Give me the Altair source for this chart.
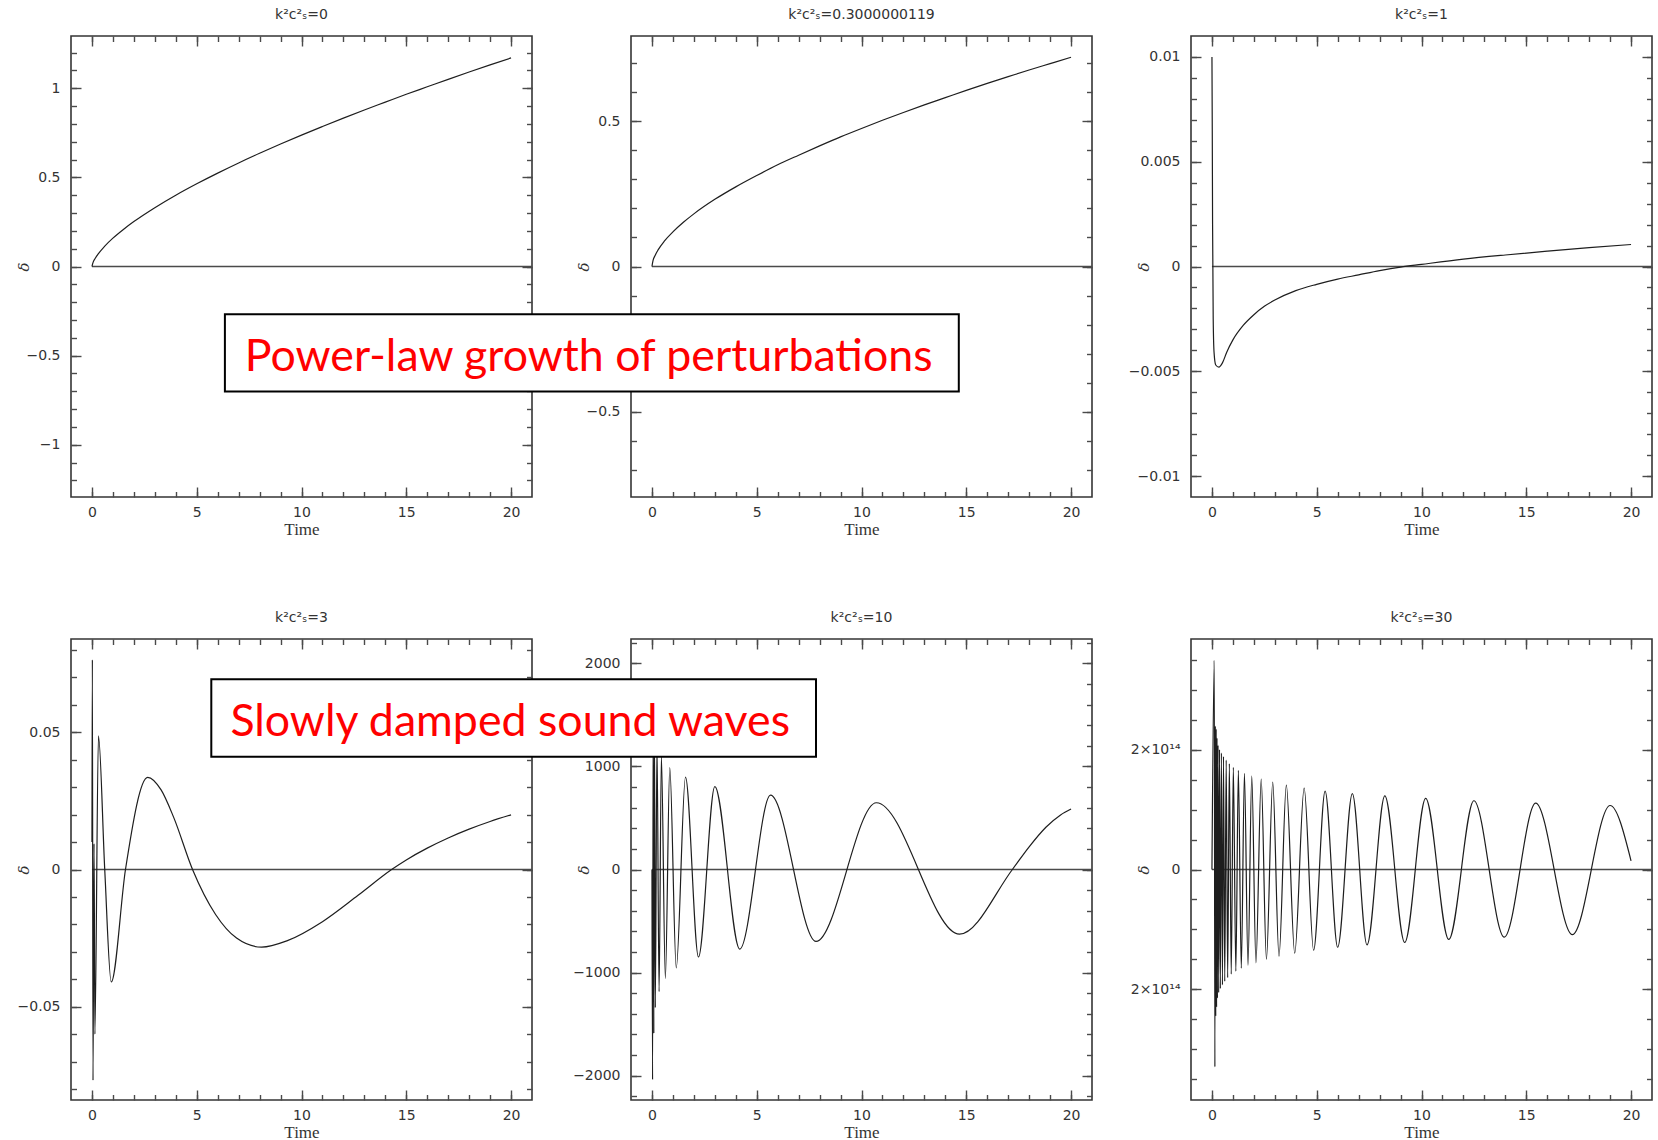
import altair as alt
import pandas as pd

# ---------------- data ----------------
TITLES = ["k²c²ₛ=0", "k²c²ₛ=0.3000000119", "k²c²ₛ=1",
          "k²c²ₛ=3", "k²c²ₛ=10", "k²c²ₛ=30"]

P1_T = [0, 0.05, 0.15, 0.3, 0.6, 1, 1.5, 2, 3, 4, 5, 6, 7, 8, 9, 10, 11, 12, 13, 14, 15, 16, 17, 18, 19, 20]
P1_V = [0.0, 0.022, 0.045, 0.071, 0.113, 0.159, 0.208, 0.252, 0.33, 0.40, 0.464, 0.524, 0.581, 0.635,
        0.687, 0.737, 0.785, 0.832, 0.878, 0.922, 0.966, 1.008, 1.05, 1.091, 1.131, 1.17]

P2_T = [0, 0.05, 0.15, 0.3, 0.6, 1, 1.5, 2, 3, 4, 5, 6, 7, 8, 9, 10, 11, 12, 13, 14, 15, 16, 17, 18, 19, 20]
P2_V = [0.0, 0.02, 0.038, 0.058, 0.088, 0.119, 0.152, 0.181, 0.231, 0.274, 0.313, 0.35, 0.383, 0.415,
        0.446, 0.475, 0.503, 0.53, 0.556, 0.581, 0.606, 0.63, 0.653, 0.676, 0.698, 0.72]

P3_T = [0, 0.015, 0.03, 0.06, 0.1, 0.18, 0.33, 0.5, 0.7, 1, 1.5, 2, 2.5, 3, 4, 5, 6, 7, 8, 9, 10,
        12, 14, 16, 18, 20]
P3_V = [0.01, 0.0065, 0.002, -0.0025, -0.0041, -0.0047, -0.0048, -0.0046, -0.0041, -0.0035, -0.0028,
        -0.0023, -0.0019, -0.0016, -0.00115, -0.00085, -0.0006, -0.0004, -0.0002, -0.00003, 0.0001,
        0.00035, 0.00055, 0.00073, 0.0009, 0.00105]

P4_T = [0, 0.02, 0.05, 0.1, 0.14, 0.31, 0.61, 0.92, 1.6, 2.66, 3.3, 3.9, 4.8, 5.9, 6.9, 8.1, 9.3,
        11, 12.7, 14.3, 15, 16, 17, 18, 19, 20]
P4_V = [0.01, 0.0765, -0.0768, 0.0094, -0.06, 0.0487, 0.0, -0.041, 0.0, 0.0336, 0.029, 0.019, 0.0,
        -0.0164, -0.025, -0.0283, -0.026, -0.019, -0.0094, 0.0, 0.0035, 0.0078, 0.0115, 0.0147,
        0.0175, 0.0199]

P5_T = [0, 0.03, 0.06, 0.09, 0.12, 0.16, 0.24, 0.34, 0.45, 0.64, 0.85, 1.16, 1.6, 2.22, 3.0, 4.19,
        5.66, 7.83, 10.71, 14.68, 17.2, 18.0, 18.8, 19.5, 20]
P5_V = [0, -2040, 1550, -1590, 1400, -1340, 1230, -1185, 1100, -1057, 990, -956, 896, -849, 805,
        -772, 721, -698, 648, -628, 0, 220, 410, 530, 587]

P6_T = [0, 0.11, 0.14, 0.16, 0.18, 0.2, 0.22, 0.24, 0.26, 0.29, 0.32, 0.36, 0.4, 0.45, 0.5, 0.55,
        0.61, 0.68, 0.75, 0.83, 0.92, 1.02, 1.14, 1.26, 1.4, 1.55, 1.72, 1.9, 2.1, 2.35, 2.6, 2.9,
        3.2, 3.55, 3.95, 4.4, 4.85, 5.4, 6.0, 6.7, 7.4, 8.25, 9.2, 10.2, 11.3, 12.5, 13.95, 15.45,
        17.2, 19.0, 20.0]
P6_V = [0.0, 3.5e14, -3.3e14, 2.4e14, -2.45e14, 2.35e14, -2.3e14, 2.2e14, -2.15e14, 2.08e14,
        -2.06e14, 2.01e14, -1.99e14, 1.95e14, -1.93e14, 1.89e14, -1.87e14, 1.83e14, -1.81e14,
        1.77e14, -1.75e14, 1.71e14, -1.70e14, 1.66e14, -1.65e14, 1.61e14, -1.60e14, 1.56e14,
        -1.56e14, 1.51e14, -1.50e14, 1.46e14, -1.45e14, 1.41e14, -1.40e14, 1.36e14, -1.35e14,
        1.31e14, -1.30e14, 1.27e14, -1.26e14, 1.23e14, -1.22e14, 1.19e14, -1.17e14, 1.15e14,
        -1.13e14, 1.11e14, -1.09e14, 1.07e14, 0.145e14]

SERIES = [(P1_T, P1_V), (P2_T, P2_V), (P3_T, P3_V), (P4_T, P4_V), (P5_T, P5_V), (P6_T, P6_V)]

Y_DOMAINS = [[-1.293, 1.293], [-0.793, 0.793], [-0.011, 0.011],
             [-0.084, 0.084], [-2237, 2237], [-3.855e14, 3.855e14]]
Y_MAJOR = [[-1, -0.5, 0, 0.5, 1], [-0.5, 0, 0.5], [-0.01, -0.005, 0, 0.005, 0.01],
           [-0.05, 0, 0.05], [-2000, -1000, 0, 1000, 2000], [-2e14, 0, 2e14]]
Y_MINOR = [[round(k * 0.1, 2) for k in range(-12, 13)],
           [round(k * 0.1, 2) for k in range(-7, 8)],
           [round(k * 0.001, 4) for k in range(-10, 11)],
           [round(k * 0.01, 3) for k in range(-8, 9)],
           [k * 200 for k in range(-11, 12)],
           [k * 5e13 for k in range(-7, 8)]]
Y_FORMAT = ["~g", "~g", "~g", "~g", "d", "~g"]
Y_LABEL_EXPR = [None, None, None, None, None, "datum.value == 0 ? '0' : '2×10¹⁴'"]

X_DOMAIN = [-1, 21]
X_MAJOR = [0, 5, 10, 15, 20]
X_MINOR = list(range(0, 21))
ZERO_LINE_T = [0, 21]

ANNOT_1 = "Power-law growth of perturbations"
ANNOT_2 = "Slowly damped sound waves"

# ---------------- layout / style ----------------
W = 461
H = 461
MAJ = 10
MIN = 5.5
LINE_COLOR = "#1e1e1e"
ZERO_COLOR = "#4a4a4a"
ONE = alt.Data(values=[{"k": 0}])


def panel(i):
    ts, vs = SERIES[i]
    curve = pd.DataFrame({"t": ts, "v": vs})
    zero = pd.DataFrame({"t": [ZERO_LINE_T[0]], "t2": [ZERO_LINE_T[1]], "v": [0]})
    xs = alt.Scale(domain=X_DOMAIN, nice=False, zero=False)
    ys = alt.Scale(domain=Y_DOMAINS[i], nice=False, zero=False)

    left_kw = dict(orient="left", values=Y_MAJOR[i], offset=-MAJ, tickSize=MAJ, labelPadding=11,
                   format=Y_FORMAT[i], title="δ", titleX=-58, titleY=H / 2, titleAngle=270,
                   titleAlign="center", titleBaseline="middle", titleFont="DejaVu Serif",
                   titleFontStyle="italic", titleFontSize=15, labelFlush=False)
    if Y_LABEL_EXPR[i]:
        left_kw["labelExpr"] = Y_LABEL_EXPR[i]
    ax_left = alt.Axis(**left_kw)
    ax_bottom = alt.Axis(orient="bottom", values=X_MAJOR, offset=-MAJ, tickSize=MAJ, labelPadding=8,
                         format="d", title="Time", titleY=47, titleBaseline="alphabetic",
                         labelFlush=False)
    ax_left_min = alt.Axis(orient="left", values=Y_MINOR[i], offset=-MIN, tickSize=MIN,
                           labels=False, title=None)
    ax_bottom_min = alt.Axis(orient="bottom", values=X_MINOR, offset=-MIN, tickSize=MIN,
                             labels=False, title=None)
    ax_top = alt.Axis(orient="top", values=X_MAJOR, offset=-MAJ, tickSize=MAJ, labels=False, title=None)
    ax_top_min = alt.Axis(orient="top", values=X_MINOR, offset=-MIN, tickSize=MIN, labels=False, title=None)
    ax_right = alt.Axis(orient="right", values=Y_MAJOR[i], offset=-MAJ, tickSize=MAJ, labels=False, title=None)
    ax_right_min = alt.Axis(orient="right", values=Y_MINOR[i], offset=-MIN, tickSize=MIN, labels=False, title=None)

    zl = alt.Chart(zero).mark_rule(color=ZERO_COLOR, strokeWidth=1.3).encode(
        x=alt.X("t:Q", scale=xs, axis=ax_bottom_min), x2="t2:Q",
        y=alt.Y("v:Q", scale=ys, axis=ax_left_min))
    line = alt.Chart(curve).mark_line(color=LINE_COLOR, strokeWidth=1.2, interpolate="monotone").encode(
        x=alt.X("t:Q", scale=xs, axis=ax_bottom),
        y=alt.Y("v:Q", scale=ys, axis=ax_left))
    g1 = alt.Chart(zero).mark_point(opacity=0, size=1).encode(
        x=alt.X("t:Q", scale=xs, axis=ax_top), y=alt.Y("v:Q", scale=ys, axis=ax_right))
    g2 = alt.Chart(zero).mark_point(opacity=0, size=1).encode(
        x=alt.X("t:Q", scale=xs, axis=ax_top_min), y=alt.Y("v:Q", scale=ys, axis=ax_right_min))
    title = alt.Chart(ONE).mark_text(text=TITLES[i], font="DejaVu Sans", fontSize=14, color="#333333",
                                     align="center", baseline="middle").encode(
        x=alt.value(W / 2), y=alt.value(-21))
    layers = [zl, line, g1, g2, title]

    if i == 0:
        # invisible anchor fixing the page's top-left corner
        layers.append(alt.Chart(ONE).mark_rule(strokeOpacity=0).encode(
            x=alt.value(-69.3), x2=alt.value(-69.3), y=alt.value(-34.7), y2=alt.value(-34.2)))
    if i == 1:
        layers.append(alt.Chart(ONE).mark_rect(fill="white", stroke="black", strokeWidth=2).encode(
            x=alt.value(-406.1), x2=alt.value(327.8), y=alt.value(278.3), y2=alt.value(355.5)))
        layers.append(alt.Chart(ONE).mark_text(text=ANNOT_1, font="Lato", fontSize=44.7, color="#ff0000",
                                               align="center", baseline="alphabetic").encode(
            x=alt.value(-42.3), y=alt.value(335.3)))
    if i == 4:
        layers.append(alt.Chart(ONE).mark_rect(fill="white", stroke="black", strokeWidth=2).encode(
            x=alt.value(-419.7), x2=alt.value(185), y=alt.value(40.3), y2=alt.value(117.8)))
        layers.append(alt.Chart(ONE).mark_text(text=ANNOT_2, font="Lato", fontSize=44.7, color="#ff0000",
                                               align="center", baseline="alphabetic").encode(
            x=alt.value(-120.8), y=alt.value(97.3)))

    return alt.layer(*layers).resolve_axis(x="independent", y="independent").properties(
        width=W, height=H)


chart = alt.concat(*[panel(i) for i in range(6)], columns=3,
                   spacing={"row": 142, "column": 99}, bounds="flush").properties(
    padding={"left": 0, "top": 0, "right": 0, "bottom": 0},
    background="white",
).configure_view(stroke="#353535", strokeWidth=1.6).configure_axis(
    domain=False, grid=False, tickColor="#4a4a4a", tickWidth=1.4,
    labelFont="DejaVu Sans", labelFontSize=14, labelColor="#333333",
    titleFont="Liberation Serif", titleFontSize=17, titleFontWeight="normal", titleColor="#333333")

chart.save("out.html", embed_options={"renderer": "svg", "actions": False})
